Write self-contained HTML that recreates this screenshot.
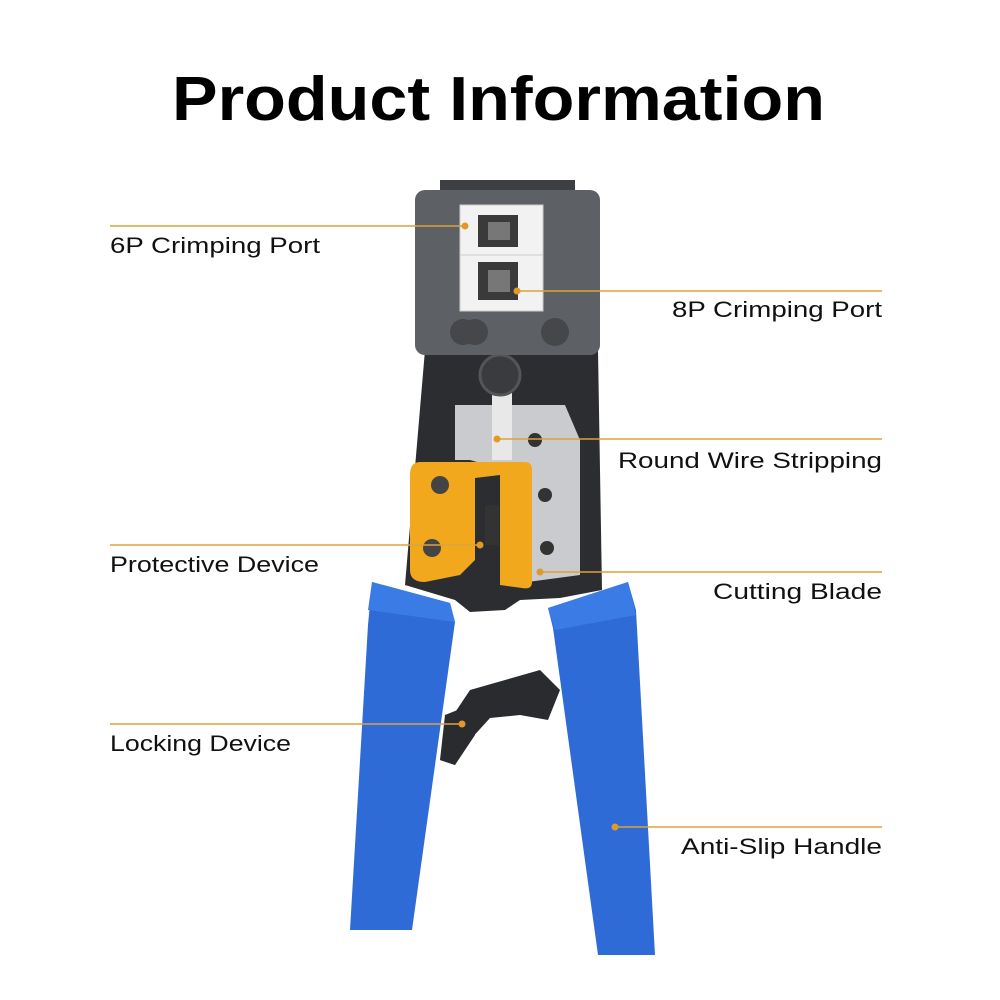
<!DOCTYPE html>
<html><head><meta charset="utf-8"><style>
html,body{margin:0;padding:0;background:#fff;}
svg{display:block}
text{font-family:"Liberation Sans",sans-serif;}
</style></head><body>
<svg width="1000" height="1000" viewBox="0 0 1000 1000" xmlns="http://www.w3.org/2000/svg">
<rect width="1000" height="1000" fill="#fff"/>
<text x="172" y="120" font-size="62" font-weight="bold" fill="#000" textLength="653" lengthAdjust="spacingAndGlyphs">Product Information</text>

<path d="M425,350 L598,350 L602,590 L560,598 L520,600 L505,610 L470,612 L455,600 L405,585 Z" fill="#2c2d31"/>
<path d="M470,690 L540,670 L560,690 L548,720 L520,715 L490,718 L470,740 L455,765 L440,760 L450,720 Z" fill="#2a2b2e"/>
<path d="M455,405 L565,405 L580,440 L580,575 L505,585 L505,470 L470,460 L455,460 Z" fill="#c9cbce"/>
<rect x="492" y="380" width="20" height="80" fill="#e8e8e8"/>
<circle cx="500" cy="375" r="20" fill="#3a3b3f" stroke="#555" stroke-width="3"/>
<circle cx="535" cy="440" r="7" fill="#333"/>
<circle cx="547" cy="548" r="7" fill="#333"/>
<circle cx="545" cy="495" r="7" fill="#333"/>
<rect x="440" y="180" width="135" height="14" fill="#3d3f43"/>
<rect x="415" y="190" width="185" height="165" rx="10" fill="#5d6065"/>
<rect x="460" y="205" width="83" height="106" fill="#f2f2f2" stroke="#ccc"/>
<line x1="460" y1="255" x2="543" y2="255" stroke="#ccc"/>
<rect x="478" y="215" width="40" height="32" fill="#3a3a3a"/>
<rect x="478" y="262" width="40" height="38" fill="#3a3a3a"/>
<rect x="488" y="222" width="22" height="18" fill="#777"/>
<rect x="488" y="270" width="22" height="22" fill="#777"/>
<circle cx="463" cy="332" r="13" fill="#45474b"/>
<circle cx="475" cy="332" r="13" fill="#45474b"/>
<circle cx="555" cy="332" r="14" fill="#45474b"/>
<path d="M420,462 L525,462 Q532,462 532,470 L532,582 Q532,590 522,588 L500,585 L500,475 L475,478 L475,560 L460,575 L425,582 Q410,582 410,570 L410,475 Q410,462 420,462 Z" fill="#f2a81d"/>
<rect x="485" y="505" width="14" height="40" fill="#333"/>
<circle cx="440" cy="485" r="9" fill="#444"/>
<circle cx="432" cy="548" r="9" fill="#444"/>
<path d="M445,715 L470,705 L475,735 L455,765 L440,760 Z" fill="#2a2b2e"/>
<path d="M372,582 L450,603 L455,622 L412,930 L350,930 L368,625 Z" fill="#2f6bd6"/>
<path d="M372,582 L450,603 L455,622 L368,610 Z" fill="#3b7be6"/>
<path d="M548,608 L628,582 L636,610 L655,955 L598,955 L553,628 Z" fill="#2f6bd6"/>
<path d="M548,608 L628,582 L636,615 L555,630 Z" fill="#3b7be6"/>

<g stroke="#dda23a" stroke-width="1.5" fill="#e09a2a">
<line x1="110" y1="226" x2="465" y2="226"/><circle cx="465" cy="226" r="3.5" stroke="none"/>
<line x1="517" y1="291" x2="882" y2="291"/><circle cx="517" cy="291" r="3.5" stroke="none"/>
<line x1="497" y1="439" x2="882" y2="439"/><circle cx="497" cy="439" r="3.5" stroke="none"/>
<line x1="110" y1="545" x2="480" y2="545"/><circle cx="480" cy="545" r="3.5" stroke="none"/>
<line x1="540" y1="572" x2="882" y2="572"/><circle cx="540" cy="572" r="3.5" stroke="none"/>
<line x1="110" y1="724" x2="462" y2="724"/><circle cx="462" cy="724" r="3.5" stroke="none"/>
<line x1="615" y1="827" x2="882" y2="827"/><circle cx="615" cy="827" r="3.5" stroke="none"/>
</g>
<g font-size="22" fill="#111">
<text x="110" y="253" textLength="210" lengthAdjust="spacingAndGlyphs">6P Crimping Port</text>
<text x="672" y="317" textLength="210" lengthAdjust="spacingAndGlyphs">8P Crimping Port</text>
<text x="618" y="468" textLength="264" lengthAdjust="spacingAndGlyphs">Round Wire Stripping</text>
<text x="110" y="572" textLength="209" lengthAdjust="spacingAndGlyphs">Protective Device</text>
<text x="713" y="599" textLength="169" lengthAdjust="spacingAndGlyphs">Cutting Blade</text>
<text x="110" y="751" textLength="181" lengthAdjust="spacingAndGlyphs">Locking Device</text>
<text x="681" y="854" textLength="201" lengthAdjust="spacingAndGlyphs">Anti-Slip Handle</text>
</g>
</svg>
</body></html>
